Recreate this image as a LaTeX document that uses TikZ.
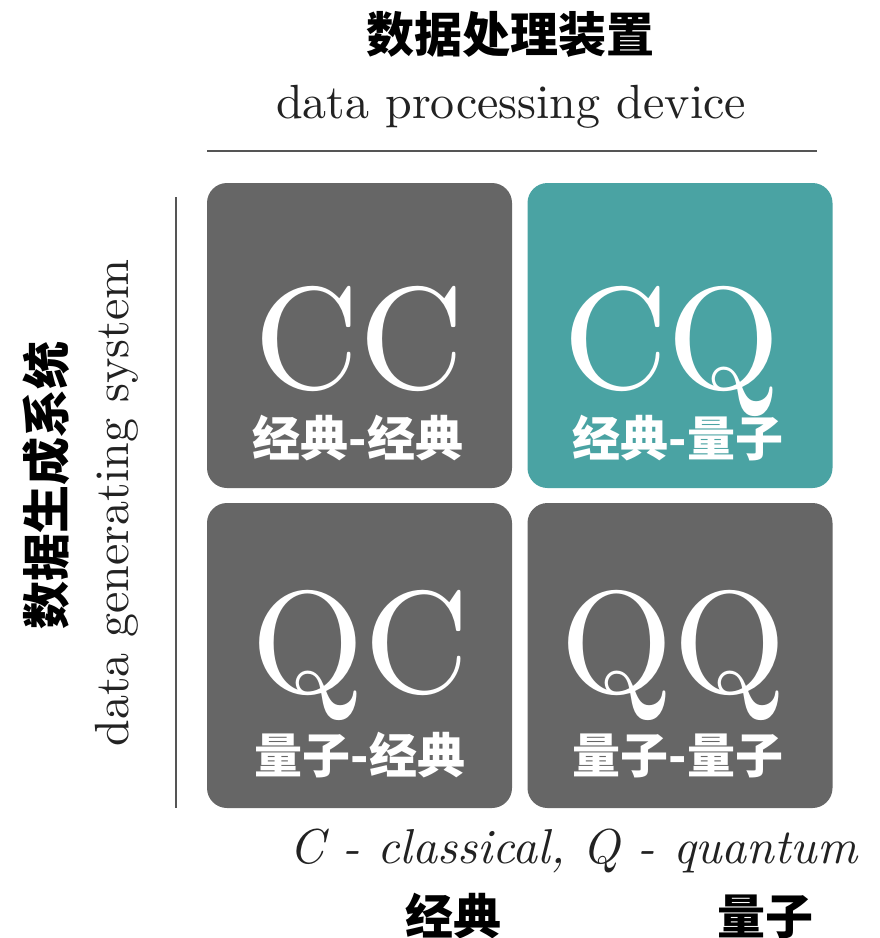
\documentclass[tikz,border=0pt]{standalone}
\usepackage{fontspec}
\usepackage{graphicx}
\newfontfamily\cjk{Noto Sans CJK SC}
\definecolor{boxgray}{HTML}{666666}
\definecolor{cqteal}{HTML}{4AA3A3}
\definecolor{rulegray}{HTML}{555555}
\definecolor{txtgray}{HTML}{222222}
\begin{document}
\begin{tikzpicture}[x=1pt,y=-1pt]
\useasboundingbox (0,0) rectangle (880,938);
\tikzset{
  cell/.style={rounded corners=20pt, minimum width=305pt, minimum height=305pt, inner sep=0pt, fill=boxgray},
  bigtxt/.style={anchor=base, text=white, inner sep=0pt, font={\addfontfeatures{FakeBold=0.3}}},
  cjklab/.style={anchor=base, inner sep=0pt, font={\cjk\bfseries\fontsize{48}{50}\selectfont}},
  cjkhead/.style={anchor=base, inner sep=0pt, font={\cjk\bfseries\fontsize{48}{52}\selectfont}},
  engtxt/.style={anchor=base, inner sep=0pt, text=txtgray},
  axisrule/.style={draw=rulegray, line width=2.5pt},
}
% title
\node[cjkhead] (title) at (510,52.5) {数据处理装置};
\node[engtxt] (dpd) at (511,118) {\scalebox{4.8}{data processing device}};
% side labels
\node[cjkhead, rotate=90] (side) at (64,485) {数据生成系统};
\node[engtxt, rotate=90] (dgs) at (128,503) {\scalebox{4.8}{data generating system}};
% rules
\coordinate (h1) at (207,151);
\coordinate (h2) at (817,151);
\coordinate (v1) at (176,197);
\coordinate (v2) at (176,808);
\draw[axisrule] (h1) -- (h2);
\draw[axisrule] (v1) -- (v2);
% cells
\node[cell] (cc) at (359.5,335.5) {};
\node[cell, fill=cqteal] (cq) at (680,335.5) {};
\node[cell] (qc) at (359.5,655.5) {};
\node[cell] (qq) at (680,655.5) {};
% big letters
\node[bigtxt] (cctxt) at (359,388) {\scalebox{14.5}{CC}};
\node[bigtxt] (cqtxt) at (672,388) {\scalebox{14.5}{CQ}};
\node[bigtxt] (qctxt) at (360,692) {\scalebox{14.5}{QC}};
\node[bigtxt] (qqtxt) at (673,692) {\scalebox{14.5}{QQ}};
% cell labels
\node[cjklab, text=white] (cclab) at (358,456) {经典-经典};
\node[cjklab, text=white] (cqlab) at (678,456) {经典-量子};
\node[cjklab, text=white] (qclab) at (360,773) {量子-经典};
\node[cjklab, text=white] (qqlab) at (678,773) {量子-量子};
% bottom legend
\node[engtxt] (legend) at (574,863) {\scalebox{4.9}{\textit{C - classical, Q - quantum}}};
\node[cjkhead] (bc) at (453,934) {经典};
\node[cjkhead] (bq) at (765,934) {量子};
\end{tikzpicture}
\end{document}
